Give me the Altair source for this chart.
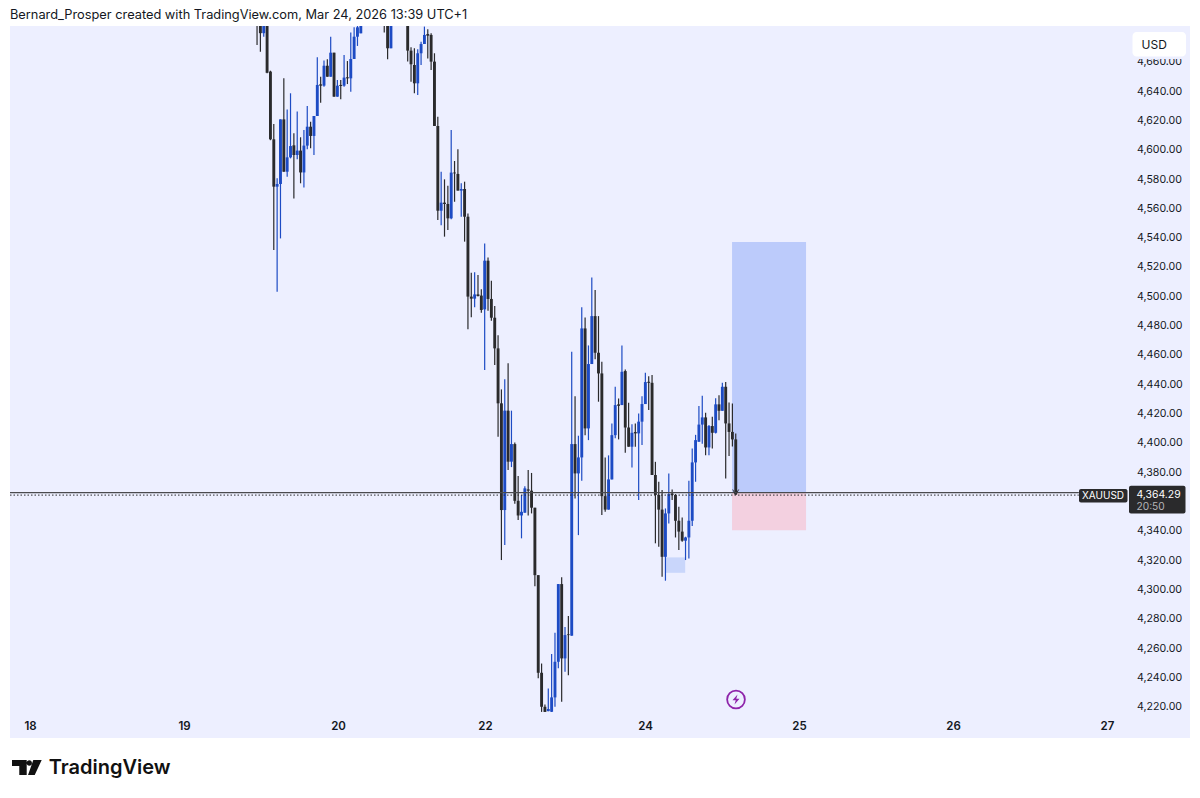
import altair as alt
import pandas as pd

FONT = "Inter"
BG = "#EDEFFF"
UP = "#1D4BC4"
DOWN = "#2A2A2C"
INK = "#131722"

opens = [4700,4690,4679,4690,4652.8,4606.6,4574.3,4576.1,4620.2,4584.5,4594.3,4602.5,4595.9,4598.9,4584,4602.3,4615.2,4608.9,4622.5,4644.1,4643.2,4656.8,4649.3,4665.7,4635.7,4643.7,4643.2,4648.9,4648.2,4661.4,4676.6,4678.9,
 4692,4702,4708,4703,4700,4705,4698,4692,4668.7,4690,4698,4703,4696,4692,4667.1,4657.3,4644.8,4665.3,4671.6,4678.4,4677.8,4659.6,4615.7,4557.9,4563.4,4562.5,4552.7,4583.9,4583,4571.6,4572.7,
 4553.8,4499.3,4497.9,4500.8,4500,4490.6,4523.8,4497.7,4484.9,4464,4426.5,4353.7,4421.5,4386.7,4398.7,4360,4350,4351.9,4367.8,4366.9,4355.3,4309.3,4242.7,4219.5,4216.5,4216.1,4225.9,4250.2,4303.2,4252.5,4268.9,4268,
 4398.7,4378.7,4389.6,4477.6,4409.4,4453.3,4486,4461,4446.9,4363.2,4354,4374.6,4404.8,4425.8,4425.3,4448.5,4410,4396.9,4406.9,4406,4414,4426,4441.2,4440.5,4377.6,4364,4354,4321.8,4351.4,4365,4364,4346.4,4339,4332.8,4335,4346.4,4386.2,4400.3,4412,4416.9,4396.4,4411,4406.4,4425.8,4421.4,4437.8,4412.8,4407,4401.9]
highs = [4705,4695,4695,4695,4653.4,4617,4580,4620.2,4648.2,4627,4638,4610.7,4625.5,4608,4613,4629.3,4618.6,4622.5,4662.5,4649.3,4660.3,4661.2,4676.6,4665.7,4647,4647,4664.1,4660,4679.4,4683,4695,4698,
 4705,4712,4715,4710,4708,4710,4702,4695,4695,4702,4708,4708,4702,4695,4669.4,4668.7,4668,4673.2,4683.5,4681.6,4678.9,4665.3,4622,4584.5,4579.3,4575,4613,4591.8,4599.8,4576.6,4577.7,
 4556,4515.6,4516,4514,4504.3,4535.6,4526,4510.2,4492.9,4473,4436,4443,4453.8,4421.5,4399.7,4376.9,4364,4370,4381,4379,4355.3,4309.3,4249,4221,4232,4255.5,4270,4303.2,4307.8,4274,4281.4,4461.7,
 4431.4,4404.4,4492,4485,4466,4512.4,4503.8,4486,4454.9,4389.6,4391,4412.8,4437.8,4429.8,4466,4449.6,4426.9,4412.3,4412.8,4419.6,4431.4,4447.4,4445,4445.8,4386.6,4373,4367.3,4354.8,4378.7,4367.8,4364.6,4356,4348.7,4335.5,4373.7,4395.7,4405,4424.6,4431.7,4420,4411.7,4417.3,4430,4432,4440.5,4441,4427,4426.4,4406]
lows = [4671,4666.4,4676.6,4651.6,4606,4531.1,4502.7,4539,4584.5,4581.1,4593.6,4566.3,4593,4576.6,4573.8,4599.8,4600.5,4595.9,4622.5,4631.6,4642.5,4649.3,4649.3,4635.7,4635.7,4633.9,4642.5,4644.3,4639.1,4661.4,4670.3,4678.9,
 4690,4698,4700,4697,4695,4692,4679.4,4661.2,4668.7,4688,4694,4692,4688,4659.6,4645.9,4638,4636.8,4657.3,4671.6,4661.8,4653.9,4615.7,4551.6,4548,4540.2,4544.7,4552,4564,4571.6,4553.8,4536.8,
 4477,4485.2,4492,4499.3,4488.3,4449.2,4489.7,4482.9,4452.6,4403.7,4319.6,4329.8,4381,4383,4358,4346.9,4334.4,4351.9,4350,4351.4,4301.8,4238.9,4216,4216,4216.5,4216,4219.5,4245.7,4223,4243.4,4241,4268,
 4361.6,4336.6,4373.7,4404.8,4401.4,4453.3,4456.5,4427.6,4350.3,4352.5,4354,4374.6,4402.6,4401.9,4425.3,4392.8,4396.9,4382.8,4396.9,4360.5,4398,4426,4421.9,4377.6,4331,4328.7,4308.2,4305.5,4344.6,4360.5,4335,4326.4,4332,4319.6,4320.7,4342.8,4373,4400.3,4399,4391,4391,4395.7,4405.9,4415,4421.4,4375.3,4390.5,4397,4364]
closes = [4686,4679,4690,4652,4606.6,4574.3,4576.1,4620.2,4584.5,4594.3,4602,4595.9,4598.9,4584,4602.3,4615.2,4608.9,4622.5,4643.7,4643.2,4656.8,4649.3,4665.7,4635.7,4643.2,4643,4648.7,4648.2,4661.4,4676.6,4683,4692,
 4702,4708,4703,4700,4705,4698,4692,4668.7,4690,4698,4703,4696,4692,4667.1,4657.8,4644.8,4665.3,4671.6,4677.8,4677.3,4659.6,4615.7,4557.9,4563.4,4562.5,4552.7,4583.9,4583.4,4571.6,4572.7,4553.8,
 4499.3,4497.9,4500.8,4499.7,4490.2,4523.8,4497.7,4484.9,4464,4426.5,4353.7,4421.5,4386.7,4398.7,4360,4350,4352.5,4368.5,4366.9,4355.3,4309.3,4242.7,4219.5,4216,4218,4225.9,4250.2,4303.2,4252.5,4268.4,4268.4,4398.7,
 4378.7,4389.6,4477.6,4409.4,4453.3,4486,4461,4446.9,4363.2,4354,4374.6,4404.8,4425.3,4424.8,4448,4410,4396.9,4406.4,4406,4414,4426,4441,4440.5,4377.6,4364,4354,4321.8,4351.4,4364.6,4364,4346.4,4339,4332.8,4335,4346.4,4386.2,4401.4,4412,4416.9,4396.4,4411,4406.4,4425.8,4421.4,4437.8,4412.8,4407,4401.9,4364.29]

day_labels = ["18", "19", "20", "22", "24", "25", "26", "27"]
day_bars = [-67.8, -21.8, 24.2, 68.1, 115.9, 161.9, 207.9, 253.9]
price_ticks = [4220,4240,4260,4280,4300,4320,4340,4380,4400,4420,4440,4460,4480,4500,4520,4540,4560,4580,4600,4620,4640,4660]
X_DOMAIN = [-73.8, 278.7]
Y_DOMAIN = [4198.2, 4683.9]

n = min(len(opens), len(highs), len(lows), len(closes))
bars = pd.DataFrame({
    "bar": list(range(n)), "open": opens[:n], "high": highs[:n], "low": lows[:n], "close": closes[:n],
})
bars["dir"] = ["up" if c >= o else "down" for o, c in zip(bars.open, bars.close)]

xs = alt.Scale(domain=X_DOMAIN, nice=False, zero=False)
ys = alt.Scale(domain=Y_DOMAIN, nice=False, zero=False)
cs = alt.Scale(domain=["up", "down"], range=[UP, DOWN])
label_map = "{" + ",".join(f"'{b}':'{l}'" for b, l in zip(day_bars, day_labels)) + "}"

x_axis = alt.Axis(values=day_bars, labelExpr=f"{label_map}[datum.value]", title=None, grid=False, domain=False, ticks=False,
                  orient="bottom", offset=-18, labelPadding=0, labelFont=FONT, labelFontSize=11.5, labelFontWeight=600,
                  labelColor=INK, labelAngle=0, labelFlush=False, labelOverlap=False, labelBound=False)
y_axis = alt.Axis(values=price_ticks, format=",.2f", title=None, grid=False, domain=False, ticks=False, orient="right",
                  offset=-53.5, labelPadding=0, labelOffset=0.7, labelFont=FONT, labelFontSize=10.6, labelColor=INK,
                  labelAlign="left", labelOverlap=False, labelBound=False, labelFlush=False)


def rect(x, x2, y, y2, color):
    d = pd.DataFrame({"x": [x], "x2": [x2], "y": [y], "y2": [y2]})
    return alt.Chart(d).mark_rect(color=color, opacity=1).encode(
        x=alt.X("x:Q", scale=xs, axis=x_axis), x2="x2:Q",
        y=alt.Y("y:Q", scale=ys, axis=y_axis), y2="y2:Q")


def hline(price, x2, color, width, dash=None):
    d = pd.DataFrame({"x": [X_DOMAIN[0]], "x2": [x2], "y": [price]})
    kw = {"strokeDash": dash} if dash else {}
    return alt.Chart(d).mark_rule(color=color, strokeWidth=width, **kw).encode(
        x=alt.X("x:Q", scale=xs, axis=x_axis), x2="x2:Q", y=alt.Y("y:Q", scale=ys, axis=y_axis))


def label(text, px, py, size=12, color=INK, weight=400, align="left"):
    d = pd.DataFrame({"t": [text]})
    return alt.Chart(d).mark_text(font=FONT, fontSize=size, color=color, fontWeight=weight, align=align, baseline="middle").encode(
        text="t:N", x=alt.value(px - 10), y=alt.value(py - 26))


def box(x0, y0, x1, y1, color, r):
    d = pd.DataFrame({"a": [1]})
    return alt.Chart(d).mark_rect(color=color, cornerRadius=r, opacity=1).encode(
        x=alt.value(x0 - 10), x2=alt.value(x1 - 10), y=alt.value(y0 - 26), y2=alt.value(y1 - 26))


def glyph(path, px, py, size, fill=None, stroke=None, sw=0):
    d = pd.DataFrame({"a": [1]})
    return alt.Chart(d).mark_point(shape=path, size=size, filled=fill is not None, fill=fill, stroke=stroke,
                                   strokeWidth=sw, opacity=1).encode(x=alt.value(px - 10), y=alt.value(py - 26))


wicks = alt.Chart(bars).mark_rule(strokeWidth=1.2, clip=True).encode(
    x=alt.X("bar:Q", scale=xs, axis=x_axis), y=alt.Y("high:Q", scale=ys, axis=y_axis), y2="low:Q",
    color=alt.Color("dir:N", scale=cs, legend=None))
bodies = alt.Chart(bars).mark_rule(strokeWidth=2.9, clip=True).encode(
    x=alt.X("bar:Q", scale=xs, axis=x_axis), y=alt.Y("open:Q", scale=ys, axis=y_axis), y2="close:Q",
    color=alt.Color("dir:N", scale=cs, legend=None))

logo_path = ("M-1,-0.505 L-0.01,-0.505 L-0.01,0.505 L-0.51,0.505 L-0.51,-0.1 L-1,-0.1 Z "
             "M-0.015,-0.303 A0.18,0.18 0 1 1 0.345,-0.303 A0.18,0.18 0 1 1 -0.015,-0.303 Z "
             "M0.434,-0.505 L1,-0.505 L0.53,0.505 L0.08,0.505 Z")
bolt_path = "M0.3,-1 L-0.7,0.15 L-0.05,0.15 L-0.3,1 L0.7,-0.15 L0.05,-0.15 Z"
arrow_path = "M-1,-1 L0,0.8 L1,-1"

chart = alt.layer(
    rect(141.9, 164, 4365.3, 4536.5, "#BCCBFB"),
    rect(141.9, 164, 4340, 4365.3, "#F3D0E0"),
    rect(122.1, 127.9, 4310.9, 4321.4, "#C9D6FB"),
    wicks,
    bodies,
    hline(4365.6, 245.5, "#4A4A4E", 1.4),
    hline(4363.9, 245.5, "#2A2A2C", 1, [1.5, 2]),
    glyph(arrow_path, 735.7, 492.5, 36, stroke="#333336", sw=1),
    box(1079, 489, 1127.5, 502.5, "#2A2A2C", 2),
    box(1129, 485.7, 1185.5, 513.5, "#2A2A2C", 2),
    label("XAUUSD", 1082, 496, 10, "#FFFFFF"),
    label("4,364.29", 1136.5, 495, 10.4, "#FFFFFF"),
    label("20:50", 1136.5, 507, 10.2, "#B5B5B8"),
    box(1132, 56, 1186, 59, BG, 0),
    box(1132.5, 32, 1186, 56.5, "#FFFFFF", 4),
    label("USD", 1141.5, 44.5, 12),
    glyph("circle", 736, 699.5, 314, stroke="#8E24AA", sw=1.8),
    glyph(bolt_path, 736, 699.5, 100, fill="#8E24AA"),
    label("Bernard_Prosper created with TradingView.com, Mar 24, 2026 13:39 UTC+1", 10, 14.5, 12.8),
    glyph(logo_path, 26.85, 767.5, 882, fill="#111111"),
    label("TradingView", 48.7, 768, 20, "#111111", 600),
).properties(
    width=1180, height=712,
    padding={"left": 2, "top": 18, "right": 2, "bottom": 52},
    autosize=alt.AutoSizeParams(type="none"),
    background="#FFFFFF",
).configure_view(fill=BG, stroke=None)

chart.save("out.html", embed_options={"renderer": "svg", "actions": False})
